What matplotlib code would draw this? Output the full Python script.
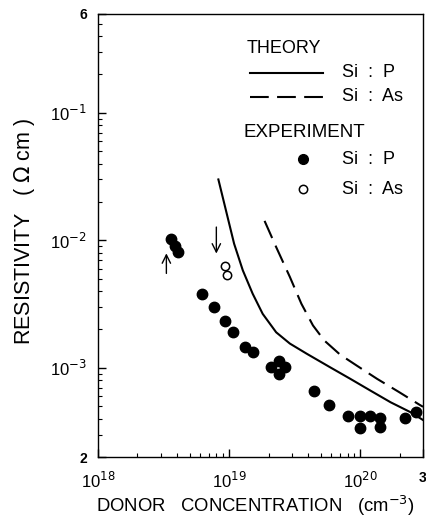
import matplotlib
matplotlib.use("Agg")
import matplotlib.pyplot as plt
from matplotlib.ticker import FixedLocator, FixedFormatter, LogLocator, NullFormatter

plt.rcParams["font.family"] = ["Liberation Sans", "DejaVu Sans"]

# experimental points, Si:P (filled)
sip_conc = [3.6e18, 3.85e18, 4.07e18, 6.24e18, 7.67e18, 9.3e18, 1.07e19, 1.33e19, 1.52e19,
            2.10e19, 2.38e19, 2.65e19, 2.38e19, 4.43e19, 5.78e19, 7.98e19, 9.9e19, 1.18e20,
            1.40e20, 9.9e19, 1.40e20, 2.19e20, 2.65e20]
sip_rho = [1.03e-2, 9.1e-3, 8.1e-3, 3.81e-3, 2.98e-3, 2.32e-3, 1.9e-3, 1.47e-3, 1.34e-3,
           1.02e-3, 1.14e-3, 1.02e-3, 9.0e-4, 6.64e-4, 5.12e-4, 4.22e-4, 4.17e-4, 4.17e-4,
           4.07e-4, 3.38e-4, 3.41e-4, 4.02e-4, 4.5e-4]

# experimental points, Si:As (open)
sias_conc = [9.3e18, 9.6e18]
sias_rho = [6.25e-3, 5.38e-3]

# theory curves
th_p_conc = [8.27e18, 9.44e18, 1.09e19, 1.27e19, 1.51e19, 1.80e19, 2.28e19, 2.90e19,
             3.9e19, 5.88e19, 8.38e19, 1.19e20, 1.70e20, 2.42e20, 3.0e20]
th_p_rho = [3.0e-2, 1.72e-2, 9.4e-3, 5.81e-3, 3.81e-3, 2.65e-3, 1.9e-3, 1.55e-3,
            1.29e-3, 1.01e-3, 8.2e-4, 6.64e-4, 5.37e-4, 4.48e-4, 3.9e-4]
th_as_conc = [1.86e19, 2.28e19, 2.90e19, 3.55e19, 4.35e19, 5.3e19, 7.0e19, 9.4e19,
              1.34e20, 1.95e20, 2.81e20, 3.0e20]
th_as_rho = [1.42e-2, 8.85e-3, 5.16e-3, 3.18e-3, 2.15e-3, 1.64e-3, 1.27e-3, 1.04e-3,
             8.2e-4, 6.5e-4, 5.15e-4, 4.95e-4]

# arrows (x, y_tail, y_head)
arrow_up = (3.32e18, 5.5e-3, 7.9e-3)
arrow_down = (7.98e18, 1.27e-2, 7.87e-3)

x_ticks = [1e18, 1e19, 1e20, 3e20]
x_labels = ["10$^{18}$", "10$^{19}$", "10$^{20}$", "3"]
y_ticks = [2e-4, 1e-3, 1e-2, 1e-1, 6e-1]
y_labels = ["2", "10$^{-3}$", "10$^{-2}$", "10$^{-1}$", "6"]

fig = plt.figure(figsize=(4.26, 5.18), dpi=100)
ax = fig.add_axes([98 / 426, 1 - 457 / 518, 325 / 426, 443.5 / 518])
ax.set_xscale("log")
ax.set_yscale("log")
ax.set_xlim(1e18, 3e20)
ax.set_ylim(2e-4, 6e-1)

ax.plot(th_p_conc, th_p_rho, "-", color="black", lw=1.5)
ax.plot(th_as_conc, th_as_rho, color="black", lw=1.5, dashes=(9, 4))
ax.plot(sip_conc, sip_rho, "o", color="black", ms=7.5, ls="none")
ax.plot(sias_conc, sias_rho, "o", mfc="white", mec="black", mew=1.1, ms=6, ls="none")

for xa, y0, y1 in (arrow_up, arrow_down):
    ax.annotate("", xy=(xa, y1), xytext=(xa, y0),
                arrowprops=dict(arrowstyle="->,head_length=0.6,head_width=0.3",
                                color="black", lw=1.0, shrinkA=0, shrinkB=0))

ax.xaxis.set_major_locator(FixedLocator(x_ticks))
ax.xaxis.set_major_formatter(FixedFormatter(x_labels))
ax.xaxis.set_minor_locator(LogLocator(base=10, subs=range(2, 10), numticks=20))
ax.xaxis.set_minor_formatter(NullFormatter())
ax.yaxis.set_major_locator(FixedLocator(y_ticks))
ax.yaxis.set_major_formatter(FixedFormatter(y_labels))
ax.yaxis.set_minor_locator(LogLocator(base=10, subs=range(2, 10), numticks=20))
ax.yaxis.set_minor_formatter(NullFormatter())
ax.tick_params(which="both", direction="in", top=False, right=False)
ax.tick_params(which="major", length=6, width=1, labelsize=12, pad=8)
ax.tick_params(axis="x", which="major", pad=10)
ax.tick_params(which="minor", length=3, width=0.8)
for lab in ax.get_yticklabels()[:1] + ax.get_yticklabels()[-1:] + ax.get_xticklabels()[-1:]:
    lab.set_fontweight("bold")
    lab.set_fontsize(10)
for sp in ax.spines.values():
    sp.set_linewidth(1.0)

# legend drawn by hand
tr = ax.transAxes
ax.text(0.457, 0.922, "THEORY", transform=tr, fontsize=13, va="center")
ax.plot([0.468, 0.692], [0.866, 0.866], "-", color="black", lw=1.5, transform=tr)
ax.text(0.750, 0.866, "Si  :  P", transform=tr, fontsize=13, va="center")
ax.plot([0.468, 0.692], [0.812, 0.812], color="black", lw=1.5, dashes=(9, 4), transform=tr)
ax.text(0.750, 0.812, "Si  :  As", transform=tr, fontsize=13, va="center")
ax.text(0.447, 0.731, "EXPERIMENT", transform=tr, fontsize=13.5, va="center")
ax.plot([0.630], [0.671], "o", color="black", ms=7, transform=tr)
ax.text(0.750, 0.671, "Si  :  P", transform=tr, fontsize=13, va="center")
ax.plot([0.630], [0.604], "o", mfc="white", mec="black", mew=1.1, ms=6, transform=tr)
ax.text(0.750, 0.604, "Si  :  As", transform=tr, fontsize=13, va="center")

fig.text(25 / 426, 1 - 231 / 518, "RESISTIVITY   ( $\\Omega$ cm )", rotation=90,
         ha="center", va="center", fontsize=15.5)
fig.text(255 / 426, 1 - 506 / 518, "DONOR   CONCENTRATION   (cm$^{-3}$)",
         ha="center", va="center", fontsize=13.3)

fig.savefig("out.png", dpi=100)
